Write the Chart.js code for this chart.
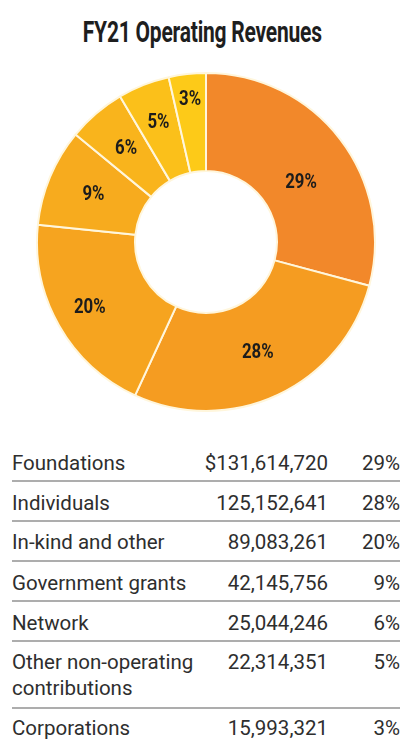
<!DOCTYPE html>
<html>
<head>
<meta charset="utf-8">
<script src="https://cdn.jsdelivr.net/npm/chart.js@4/dist/chart.umd.min.js"></script>
<style>
  html, body { margin: 0; padding: 0; background: #fff; }
  body { width: 404px; height: 740px; position: relative; overflow: hidden; font-family: Roboto, "Liberation Sans", sans-serif; }
  #title {
    position: absolute; left: 0; top: 14px; width: 404px; text-align: center;
    font: bold 30px Roboto, sans-serif; color: #1e1e1e; letter-spacing: -0.3px;
    transform: scaleX(0.7); transform-origin: 203px 0;
  }
  #wrap { position: absolute; left: 36px; top: 72px; width: 340px; height: 340px; }
  #tbl { position: absolute; left: 12px; top: 446px; width: 388px; }
  .row { position: relative; box-sizing: border-box; border-bottom: 2px solid #adadad; color: #2e2e2e; font-size: 20.5px; line-height: 26px; }
  .row:last-child { border-bottom: none; }
  .row .amt { position: absolute; right: 72px; }
  .row .pct { position: absolute; right: 0; }
</style>
</head>
<body>
<div id="title">FY21 Operating Revenues</div>
<div id="wrap"><canvas id="donut"></canvas></div>
<div id="tbl"></div>
<script>
// Data
const categories = ['Foundations', 'Individuals', 'In-kind and other', 'Government grants', 'Network', 'Other non-operating contributions', 'Corporations'];
const tableLabels = ['Foundations', 'Individuals', 'In-kind and other', 'Government grants', 'Network', 'Other non-operating<br>contributions', 'Corporations'];
const amounts = [131614720, 125152641, 89083261, 42145756, 25044246, 22314351, 15993321];
const percents = [29, 28, 20, 9, 6, 5, 3];
const colors = ['#F2882A', '#F59C21', '#F6A41F', '#F7AB1E', '#F9B41C', '#FBC01A', '#FDCA18'];

// Table layout (row box heights and text padding)
const rowBox = [36, 40, 40, 40, 40, 67, 31];
const rowPad = [4, 8, 7, 8, 8, 7, 6];

const tbl = document.getElementById('tbl');
tbl.innerHTML = categories.map((c, i) => {
  const amt = (i === 0 ? '$' : '') + amounts[i].toLocaleString('en-US');
  return `<div class="row" style="height:${rowBox[i]}px;padding-top:${rowPad[i]}px">
    <span class="lbl">${tableLabels[i]}</span>
    <span class="amt" style="top:${rowPad[i]}px">${amt}</span>
    <span class="pct" style="top:${rowPad[i]}px">${percents[i]}%</span>
  </div>`;
}).join('');

// Percent labels drawn inside the slices
const labelRadius = [0.42, 0.52, 0.64, 0.52, 0.53, 0.59, 0.74];
const labelTurn = [0.094, 0, 0, 0, 0, 0, 0];

const labelPlugin = {
  id: 'sliceLabels',
  afterDatasetsDraw(chart) {
    const ctx = chart.ctx;
    const meta = chart.getDatasetMeta(0);
    meta.data.forEach((arc, i) => {
      const p = arc.getProps(['x', 'y', 'startAngle', 'endAngle', 'innerRadius', 'outerRadius']);
      const mid = (p.startAngle + p.endAngle) / 2 + labelTurn[i];
      const r = p.innerRadius + (p.outerRadius - p.innerRadius) * labelRadius[i];
      const x = p.x + Math.cos(mid) * r;
      const y = p.y + Math.sin(mid) * r;
      ctx.save();
      ctx.translate(x, y);
      ctx.scale(0.8, 1);
      ctx.font = 'bold 21px Roboto, sans-serif';
      ctx.fillStyle = '#1c1c1c';
      ctx.textAlign = 'center';
      ctx.textBaseline = 'middle';
      ctx.fillText(percents[i] + '%', 0, 0);
      ctx.restore();
    });
  }
};

new Chart(document.getElementById('donut'), {
  type: 'doughnut',
  data: {
    labels: categories,
    datasets: [{
      data: amounts,
      backgroundColor: colors,
      borderColor: '#FFF6DC',
      borderWidth: 2,
      hoverOffset: 0
    }]
  },
  options: {
    responsive: true,
    maintainAspectRatio: false,
    animation: false,
    cutout: '42%',
    layout: { padding: 0 },
    plugins: { legend: { display: false }, tooltip: { enabled: false } }
  },
  plugins: [labelPlugin]
});
</script>
</body>
</html>
